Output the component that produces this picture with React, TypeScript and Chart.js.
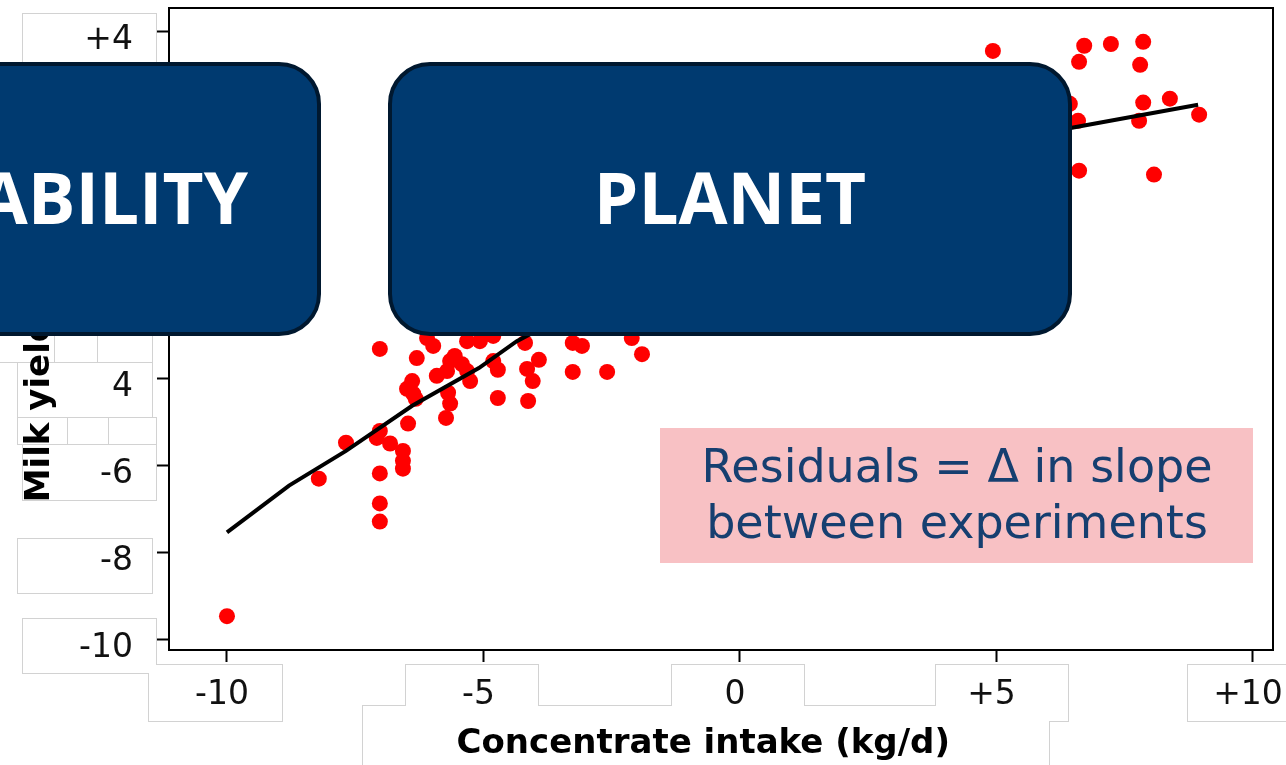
import React, { useEffect, useRef } from 'react';
import { Chart, registerables } from 'chart.js';

Chart.register(...registerables);

// ---- data ----
const intakeX = [
  -10.0, -8.21, -7.68, -7.02, -7.02, -7.08, -6.82, -7.02, -7.02, -7.02,
  -6.57, -6.57, -6.57, -6.47, -6.30, -6.39, -6.49, -6.37, -6.32, -6.10,
  -5.98, -5.91, -5.71, -5.65, -5.56, -5.42, -5.32, -5.26, -5.69, -5.65,
  -5.73, -5.32, -5.07, -4.81, -4.81, -4.72, -4.72, -4.19, -3.92, -4.15,
  -4.04, -4.13, -3.26, -3.08, -3.26, -2.59, -2.11, -1.91,
  4.93, 6.71, 7.23, 7.86, 6.61, 7.80, 7.86, 8.38, 7.78, 8.95, 6.59, 6.43, 6.61, 8.07,
];
const milkY = [
  -9.47, -6.30, -5.47, -3.31, -5.20, -5.36, -5.49, -6.18, -6.87, -7.29,
  -5.66, -5.89, -6.07, -5.03, -3.52, -4.05, -4.23, -4.34, -4.46, -3.06,
  -3.24, -3.93, -3.82, -3.59, -3.47, -3.66, -3.82, -4.05, -4.32, -4.57,
  -4.90, -3.13, -3.13, -3.01, -3.59, -3.79, -4.44, -3.17, -3.56, -3.77,
  -4.05, -4.51, -3.17, -3.24, -3.84, -3.84, -3.06, -3.43,
  3.56, 3.68, 3.72, 3.77, 3.31, 3.24, 2.37, 2.46, 1.95, 2.09, 1.95, 2.34, 0.80, 0.71,
];
const fitX = [-10.0, -8.79, -7.68, -6.39, -5.09, -4.35, -2.0, 0.0, 2.0, 4.0, 6.47, 8.93];
const fitY = [-7.54, -6.46, -5.66, -4.62, -3.75, -3.13, -1.66, -0.58, 0.35, 1.13, 1.79, 2.32];

const xTickValues = [-10, -5, 0, 5, 10];
const xTickLabels = ['-10', '-5', '0', '+5', '+10'];
const yTickValues = [-10, -8, -6, -4, -2, 0, 2, 4];
const yTickLabels = ['-10', '-8', '-6', '4', '-2', '0', '+2', '+4'];

const xTitle = 'Concentrate intake (kg/d)\u00a0\u00a0\u00a0';
const yTitle = 'Milk yield (kg/d)\u00a0\u00a0\u00a0';
const leftBanner = 'ABILITY';
const rightBanner = 'PLANET';
const noteLines = ['Residuals = \u0394 in slope', 'between experiments'];

// ---- page decoration layout ----
const W = 1286;
const H = 765;
const labelBoxes: number[][] = [
  [22, 13, 134, 60],
  [-10, 300, 64, 62],
  [97, 300, 55, 62],
  [17, 362, 135, 55],
  [17, 417, 50, 27],
  [108, 417, 48, 27],
  [22, 444, 134, 56],
  [17, 538, 135, 55],
  [22, 618, 134, 55],
  [148, 664, 134, 57],
  [362, 705, 687, 80],
  [405, 664, 133, 42],
  [671, 664, 133, 42],
  [935, 664, 133, 57],
  [1187, 664, 120, 57],
];

function roundRectPath(ctx: CanvasRenderingContext2D, x: number, y: number, w: number, h: number, r: number) {
  ctx.beginPath();
  ctx.moveTo(x + r, y);
  ctx.lineTo(x + w - r, y);
  ctx.arcTo(x + w, y, x + w, y + r, r);
  ctx.lineTo(x + w, y + h - r);
  ctx.arcTo(x + w, y + h, x + w - r, y + h, r);
  ctx.lineTo(x + r, y + h);
  ctx.arcTo(x, y + h, x, y + h - r, r);
  ctx.lineTo(x, y + r);
  ctx.arcTo(x, y, x + r, y, r);
  ctx.closePath();
}

const decorPlugin = {
  id: 'decor',
  beforeDraw(chart: any) {
    const ctx: CanvasRenderingContext2D = chart.ctx;
    ctx.save();
    ctx.fillStyle = '#ffffff';
    ctx.fillRect(0, 0, chart.width, chart.height);
    ctx.strokeStyle = '#d2d2d2';
    ctx.lineWidth = 1;
    labelBoxes.forEach(([x, y, w, h]) => ctx.strokeRect(x + 0.5, y + 0.5, w, h));
    ctx.fillStyle = '#ffffff';
    labelBoxes.forEach(([x, y, w, h]) => ctx.fillRect(x + 1, y + 1, w - 1, h - 1));
    ctx.restore();
  },
  beforeDatasetsDraw(chart: any) {
    const { ctx, chartArea: a } = chart;
    ctx.save();
    ctx.strokeStyle = '#000000';
    ctx.lineWidth = 2;
    ctx.strokeRect(a.left, a.top, a.right - a.left, a.bottom - a.top);
    ctx.restore();
  },
  afterDraw(chart: any) {
    const ctx: CanvasRenderingContext2D = chart.ctx;
    ctx.save();
    const banners = [
      { x: -60, w: 379, text: leftBanner, align: 'right' as CanvasTextAlign, tx: 248 },
      { x: 390, w: 680, text: rightBanner, align: 'center' as CanvasTextAlign, tx: 730 },
    ];
    banners.forEach((b) => {
      roundRectPath(ctx, b.x, 64, b.w, 270, 40);
      ctx.fillStyle = '#003a70';
      ctx.fill();
      ctx.lineWidth = 4;
      ctx.strokeStyle = '#00182f';
      ctx.stroke();
      ctx.fillStyle = '#ffffff';
      ctx.font = 'bold 71px "Open Sans"';
      ctx.textAlign = b.align;
      ctx.textBaseline = 'alphabetic';
      ctx.fillText(b.text, b.tx, 224);
    });
    ctx.fillStyle = '#f8c1c4';
    ctx.fillRect(660, 428, 593, 135);
    ctx.fillStyle = '#163f70';
    ctx.font = '46px "DejaVu Sans"';
    ctx.textAlign = 'center';
    ctx.textBaseline = 'alphabetic';
    ctx.fillText(noteLines[0], 957, 482);
    ctx.fillText(noteLines[1], 957, 538);
    ctx.restore();
  },
};

export default function App() {
  const ref = useRef<HTMLCanvasElement>(null);
  useEffect(() => {
    const canvas = ref.current;
    if (!canvas) return;
    const tickFont = { family: '"DejaVu Sans"', size: 33 };
    const titleFont = { family: '"DejaVu Sans"', size: 34, weight: 'bold' as const };
    const chart = new Chart(canvas, {
      type: 'scatter',
      data: {
        datasets: [
          {
            label: 'fit',
            data: fitX.map((x, i) => ({ x, y: fitY[i] })),
            showLine: true,
            borderColor: '#000000',
            borderWidth: 4,
            pointRadius: 0,
            tension: 0,
            fill: false,
          },
          {
            label: 'experiments',
            data: intakeX.map((x, i) => ({ x, y: milkY[i] })),
            backgroundColor: '#ff0000',
            borderWidth: 0,
            pointRadius: 8,
          },
        ],
      },
      options: {
        responsive: false,
        animation: false,
        devicePixelRatio: 1,
        layout: { padding: { left: 0, top: 6, right: 13, bottom: 0 } },
        plugins: { legend: { display: false }, tooltip: { enabled: false } },
        scales: {
          x: {
            type: 'linear',
            min: -11.13,
            max: 10.39,
            afterBuildTicks: (s: any) => {
              s.ticks = xTickValues.map((v) => ({ value: v }));
            },
            afterFit: (s: any) => {
              s.height = 115;
              s.paddingLeft = 0;
              s.paddingRight = 0;
            },
            ticks: {
              callback: (_v: any, i: number) => xTickLabels[i],
              font: tickFont,
              color: '#111111',
              padding: 14,
              labelOffset: -5,
              autoSkip: false,
              maxRotation: 0,
            },
            grid: { drawOnChartArea: false, drawTicks: true, tickLength: 12, tickColor: '#000000', tickWidth: 2 },
            border: { display: true, color: '#000000', width: 2 },
            title: { display: true, text: xTitle, font: titleFont, color: '#000000', padding: { top: 0, bottom: 0 } },
          },
          y: {
            type: 'linear',
            min: -10.25,
            max: 4.55,
            afterBuildTicks: (s: any) => {
              s.ticks = yTickValues.map((v) => ({ value: v }));
            },
            afterFit: (s: any) => {
              s.width = 169;
              s.paddingTop = 0;
              s.paddingBottom = 0;
            },
            ticks: {
              callback: (_v: any, i: number) => yTickLabels[i],
              font: tickFont,
              color: '#111111',
              padding: 24,
              labelOffset: 9,
              autoSkip: false,
            },
            grid: { drawOnChartArea: false, drawTicks: true, tickLength: 12, tickColor: '#000000', tickWidth: 2 },
            border: { display: true, color: '#000000', width: 2 },
            title: { display: true, text: yTitle, font: titleFont, color: '#000000', padding: { top: 20, bottom: 0 } },
          },
        },
      },
      plugins: [decorPlugin],
    });
    return () => chart.destroy();
  }, []);
  return (
    <div style={{ position: 'absolute', left: 0, top: 0, width: W, height: H, background: '#ffffff' }}>
      <canvas ref={ref} width={W} height={H} style={{ display: 'block', width: W, height: H }} />
    </div>
  );
}
